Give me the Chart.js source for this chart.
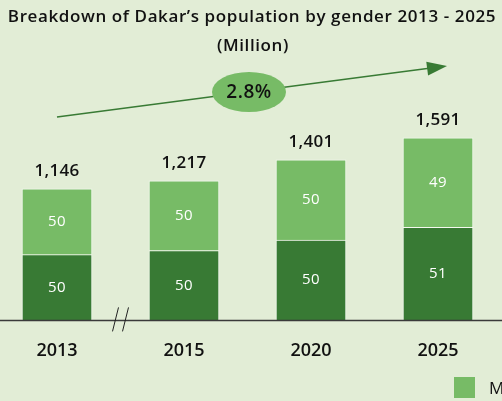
<!DOCTYPE html>
<html>
<head>
<meta charset="utf-8">
<script src="https://cdn.jsdelivr.net/npm/chart.js@4.4.1/dist/chart.umd.min.js"></script>
<style>
  html, body { margin: 0; padding: 0; background: #e2edd6; overflow: hidden; }
  #wrap { position: relative; width: 502px; height: 401px; }
</style>
</head>
<body>
<div id="wrap"><canvas id="chart" width="502" height="401"></canvas></div>
<script>
/* ---- data ---- */
const years      = ["2013", "2015", "2020", "2025"];
const totals     = [1146, 1217, 1401, 1591];   // thousands of people
const femaleShare = [50, 50, 50, 51];          // % (dark, bottom)
const maleShare   = [50, 50, 50, 49];          // % (light, top)
const seriesNames = ["Female", "Male"];
const growthLabel = "2.8%";

const TITLE    = "Breakdown of Dakar\u2019s population by gender 2013 - 2025";
const SUBTITLE = "(Million)";

const DARK  = "#387a34";
const LIGHT = "#77bb66";
const BG    = "#e2edd6";
const FONT  = "'Open Sans', sans-serif";

// segment heights derived from the totals and the shares
const femaleVals = totals.map((t, i) => t * femaleShare[i] / 100);
const maleVals   = totals.map((t, i) => t * maleShare[i] / 100);

/* ---- annotations drawn over the chart ---- */
const decor = {
  id: "decor",
  beforeDraw(chart) {
    const { ctx, width } = chart;
    ctx.save();
    ctx.fillStyle = BG;
    ctx.fillRect(0, 0, width, chart.height);
    ctx.restore();
  },
  afterDatasetsDraw(chart) {
    const { ctx } = chart;
    const x = chart.scales.x, y = chart.scales.y;
    ctx.save();

    // titles
    ctx.fillStyle = "#111";
    ctx.textAlign = "center";
    ctx.textBaseline = "middle";
    ctx.font = "600 17px " + FONT;
    ctx.letterSpacing = "0.6px";
    ctx.fillText(TITLE, 252, 17);
    ctx.fillText(SUBTITLE, 253, 46);

    // baseline
    const base = y.getPixelForValue(0);
    ctx.letterSpacing = "0px";
    ctx.strokeStyle = "#3a3a3a";
    ctx.lineWidth = 1.5;
    ctx.beginPath(); ctx.moveTo(0, base); ctx.lineTo(chart.width, base); ctx.stroke();

    // axis break between first two categories
    const bx = (x.getPixelForValue(0) + x.getPixelForValue(1)) / 2;
    ctx.strokeStyle = "#222";
    ctx.lineWidth = 1;
    [-5, 5].forEach(dx => {
      ctx.beginPath();
      ctx.moveTo(bx + dx - 3, base + 11);
      ctx.lineTo(bx + dx + 3, base - 13);
      ctx.stroke();
    });

    // segment labels
    ctx.fillStyle = "#fff";
    ctx.font = "500 15px " + FONT;
    ctx.letterSpacing = "0.4px";
    [femaleShare, maleShare].forEach((shares, di) => {
      chart.getDatasetMeta(di).data.forEach((bar, i) => {
        const mid = (bar.y + bar.base) / 2;
        ctx.fillText(String(shares[i]), bar.x, mid);
      });
    });

    // totals above bars
    ctx.fillStyle = "#111";
    ctx.font = "600 17px " + FONT;
    ctx.letterSpacing = "0.3px";
    chart.getDatasetMeta(1).data.forEach((bar, i) => {
      ctx.fillText(totals[i].toLocaleString("en-US"), bar.x, bar.y - 18);
    });

    // growth arrow
    const x0 = x.getPixelForValue(0), x1 = x.getPixelForValue(years.length - 1) + 9;
    const y0 = 117, y1 = 66;
    ctx.strokeStyle = DARK;
    ctx.fillStyle = DARK;
    ctx.lineWidth = 1.5;
    ctx.beginPath(); ctx.moveTo(x0, y0); ctx.lineTo(x1 - 16, y1 + 2); ctx.stroke();
    const ang = Math.atan2(y1 - y0, x1 - x0);
    ctx.beginPath();
    ctx.moveTo(x1, y1);
    ctx.lineTo(x1 - 20 * Math.cos(ang) - 7 * Math.sin(ang), y1 - 20 * Math.sin(ang) + 7 * Math.cos(ang));
    ctx.lineTo(x1 - 20 * Math.cos(ang) + 7 * Math.sin(ang), y1 - 20 * Math.sin(ang) - 7 * Math.cos(ang));
    ctx.closePath(); ctx.fill();

    // growth bubble
    ctx.fillStyle = LIGHT;
    ctx.beginPath(); ctx.ellipse(249, 92, 37, 20, 0, 0, Math.PI * 2); ctx.fill();
    ctx.fillStyle = "#111";
    ctx.font = "600 19px " + FONT;
    ctx.letterSpacing = "0.5px";
    ctx.fillText(growthLabel, 249, 93);

    // legend (runs off the right edge)
    let lx = 454;
    ctx.textAlign = "left";
    ctx.font = "500 17px " + FONT;
    ctx.letterSpacing = "0.4px";
    [1, 0].forEach(di => {
      ctx.fillStyle = chart.data.datasets[di].backgroundColor;
      ctx.fillRect(lx, 377, 21, 21);
      ctx.fillStyle = "#111";
      ctx.fillText(seriesNames[di], lx + 35, 389);
      lx += 35 + ctx.measureText(seriesNames[di]).width + 30;
    });

    ctx.restore();
  }
};

new Chart(document.getElementById("chart"), {
  type: "bar",
  data: {
    labels: years,
    datasets: [
      { label: seriesNames[0], data: femaleVals, backgroundColor: DARK,
        borderColor: "#f4f8ef", borderWidth: 1, barThickness: 70, clip: false },
      { label: seriesNames[1], data: maleVals, backgroundColor: LIGHT,
        borderColor: "#f4f8ef", borderWidth: 1, barThickness: 70, clip: false }
    ]
  },
  options: {
    responsive: false,
    animation: false,
    devicePixelRatio: 1,
    layout: { padding: { top: 91, left: 57, right: 64, bottom: 19 } },
    plugins: { legend: { display: false }, tooltip: { enabled: false } },
    scales: {
      x: {
        stacked: true,
        offset: false,
        grid: { display: false, drawTicks: false },
        border: { display: false },
        ticks: { color: "#111", padding: 20, font: { family: FONT, size: 18, weight: "600" } }
      },
      y: {
        stacked: true,
        display: false,
        min: 0,
        max: 2000
      }
    }
  },
  plugins: [decor]
});
</script>
</body>
</html>
